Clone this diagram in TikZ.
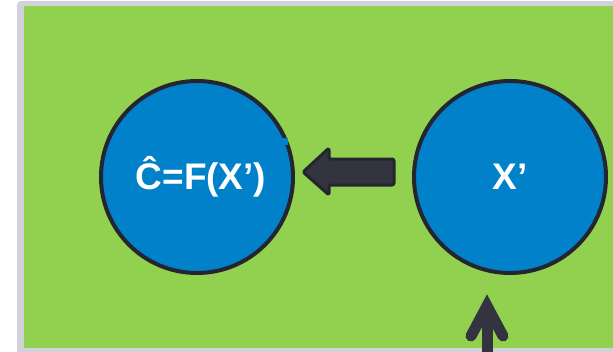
\documentclass[tikz,border=0pt]{standalone}
\usepackage{fontspec}
\setmainfont{Liberation Sans}
\usetikzlibrary{calc}
\definecolor{bggreen}{HTML}{92D050}
\definecolor{circblue}{HTML}{0081CA}
\definecolor{darkline}{HTML}{24252F}
\definecolor{arrowfill}{HTML}{33343F}
\definecolor{framegray}{HTML}{D2D2DA}
\tikzset{
  bubble/.style={circle, fill=circblue, draw=darkline, line width=4pt,
    minimum size=192pt, inner sep=0pt, text=white,
    font=\fontsize{37}{42}\selectfont\bfseries},
  blockarrow/.style={fill=arrowfill, draw=darkline, line width=3pt, rounded corners=2pt, line join=round},
  openarrow/.style={draw=arrowfill, line width=11pt}
}
\begin{document}
\begin{tikzpicture}[x=1pt,y=-1pt]
\useasboundingbox (0,0) rectangle (613,351);
% frame and background
\fill[framegray, rounded corners=4pt] (17,1) rectangle (640,360);
\fill[bggreen] (24,6) rectangle (613,348);
% circles
\node[bubble] (L) at (197,177) {\hspace*{8pt}Ĉ=F(X’)};
\node[bubble] (R) at (510,177) {X’};
\fill[circblue] (283,138) rectangle (288,145);
% block arrow from R to L
\coordinate (tip) at ($(L.east)+(8,-5)$);
\coordinate (tail) at ($(R.west)+(-18,-5)$);
\path[blockarrow] (tip) -- ++(26,-24) -- ++(0,11) -- (tail |- 0,159) -- (tail |- 0,185) -- ($(tip)+(26,13)$) -- ++(0,10) -- cycle;
% bottom arrow pointing to R
\coordinate (bot) at (487,360);
\coordinate (apex) at (487,306);
\draw[openarrow] (bot) -- (487,318);
\draw[openarrow, line cap=round, line join=miter] ($(apex)+(-16,30)$) -- (apex) -- ($(apex)+(16,30)$);
\end{tikzpicture}
\end{document}
